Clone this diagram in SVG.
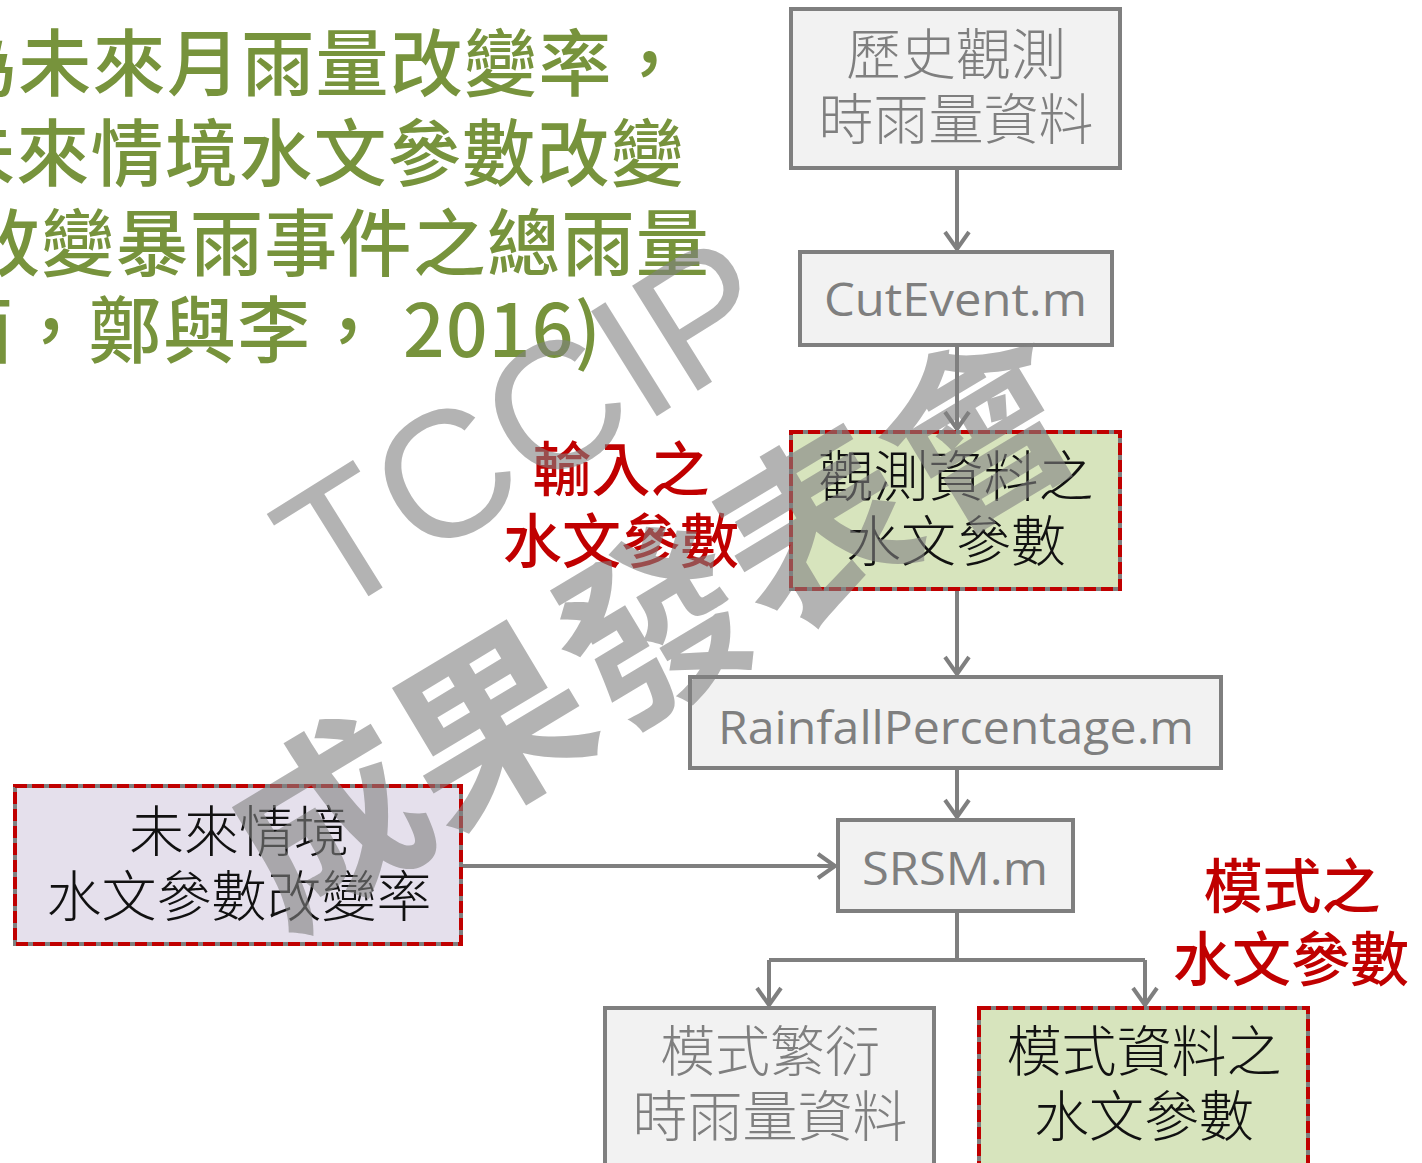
<svg xmlns="http://www.w3.org/2000/svg" width="1422" height="1163" viewBox="0 0 1422 1163">
<defs>
<style>
.box{stroke:#7f7f7f;stroke-width:4}
.gray{fill:#f2f2f2}
.green{fill:#d7e4bd}
.lav{fill:#e5e0ec}
.dash{fill:none;stroke:#c00000;stroke-width:4;stroke-dasharray:12 5}
.cjk{font-family:"Noto Sans CJK TC","Noto Sans CJK SC",sans-serif;font-weight:300;font-size:55px;text-anchor:middle}
.gt{fill:#7f7f7f}
.bt{fill:#111111}
.lat{font-family:"Open Sans","Noto Sans",sans-serif;font-weight:400;font-size:46px;fill:#7f7f7f}
.red{font-family:"Noto Sans CJK TC","Noto Sans CJK SC",sans-serif;font-weight:500;font-size:59px;fill:#c00000;text-anchor:middle}
.title{font-family:"Noto Sans CJK TC","Noto Sans CJK SC",sans-serif;font-weight:500;font-size:73px;letter-spacing:1.3px;fill:#77933c}
.wm{fill:#808080;fill-opacity:0.6}
.conn{fill:none;stroke:#7f7f7f;stroke-width:4}
</style>
<marker id="arr" markerUnits="userSpaceOnUse" markerWidth="40" markerHeight="40" viewBox="-20 -20 40 40" refX="0" refY="0" orient="auto">
<path d="M-17,-12 L0,0 L-17,12" fill="none" stroke="#7f7f7f" stroke-width="4" stroke-linejoin="miter"/>
</marker>
</defs>
<rect width="1422" height="1163" fill="#ffffff"/>

<g id="title">
<text class="title" x="-56" y="90">為未來月雨量改變率，</text>
<text class="title" x="-58" y="180">未來情境水文參數改變</text>
<text class="title" x="-33" y="270">改變暴雨事件之總雨量</text>
<text class="title" x="-60" y="357">面，鄭與李，<tspan x="403">2016)</tspan></text>
</g>

<g id="connectors">
<line class="conn" x1="957" y1="168" x2="957" y2="249" marker-end="url(#arr)"/>
<line class="conn" x1="957" y1="345" x2="957" y2="429" marker-end="url(#arr)"/>
<line class="conn" x1="957" y1="589" x2="957" y2="674" marker-end="url(#arr)"/>
<line class="conn" x1="957" y1="768" x2="957" y2="817" marker-end="url(#arr)"/>
<line class="conn" x1="461" y1="866" x2="835" y2="866" marker-end="url(#arr)"/>
<path class="conn" d="M957,911 L957,960"/>
<path class="conn" d="M769,960 L1145,960"/>
<line class="conn" x1="769" y1="960" x2="769" y2="1005" marker-end="url(#arr)"/>
<line class="conn" x1="1145" y1="960" x2="1145" y2="1005" marker-end="url(#arr)"/>
</g>

<g id="n-history">
<rect class="box gray" x="791" y="9" width="329" height="159"/>
<text class="cjk gt" x="956" y="74">歷史觀測</text>
<text class="cjk gt" x="956" y="139">時雨量資料</text>
</g>

<g id="n-cutevent">
<rect class="box gray" x="800" y="252" width="312" height="93"/>
<text class="lat" x="824" y="316" textLength="263" lengthAdjust="spacingAndGlyphs">CutEvent.m</text>
</g>

<g id="n-obsparam">
<rect class="box green" x="791" y="432" width="329" height="157"/>
<rect class="dash" x="791" y="432" width="329" height="157"/>
<text class="cjk bt" x="956" y="496">觀測資料之</text>
<text class="cjk bt" x="956" y="561">水文參數</text>
</g>

<g id="n-rainfall">
<rect class="box gray" x="690" y="677" width="531" height="91"/>
<text class="lat" x="718" y="744" textLength="476" lengthAdjust="spacingAndGlyphs">RainfallPercentage.m</text>
</g>

<g id="n-srsm">
<rect class="box gray" x="838" y="820" width="235" height="91"/>
<text class="lat" x="862" y="885" textLength="186" lengthAdjust="spacingAndGlyphs">SRSM.m</text>
</g>

<g id="n-future">
<rect class="box lav" x="15" y="786" width="446" height="158"/>
<rect class="dash" x="15" y="786" width="446" height="158"/>
<text class="cjk bt" x="239" y="851">未來情境</text>
<text class="cjk bt" x="239" y="916">水文參數改變率</text>
</g>

<g id="n-modelrain">
<rect class="box gray" x="605" y="1008" width="329" height="170"/>
<text class="cjk gt" x="770" y="1071">模式繁衍</text>
<text class="cjk gt" x="770" y="1136">時雨量資料</text>
</g>

<g id="n-modelparam">
<rect class="box green" x="979" y="1008" width="329" height="170"/>
<rect class="dash" x="979" y="1008" width="329" height="170"/>
<text class="cjk bt" x="1144" y="1071">模式資料之</text>
<text class="cjk bt" x="1144" y="1136">水文參數</text>
</g>

<g id="labels">
<text class="red" x="621" y="491">輸入之</text>
<text class="red" x="621" y="563">水文參數</text>
<text class="red" x="1292" y="908">模式之</text>
<text class="red" x="1291" y="981">水文參數</text>
</g>

<g id="watermark">
<text class="wm" transform="translate(558,478) rotate(-32)" x="0" y="0" text-anchor="middle" font-family="Liberation Sans, Arial, sans-serif" font-size="180">TCCIP</text>
<text class="wm" transform="translate(690,687) rotate(-31)" x="0" y="0" text-anchor="middle" font-family="Noto Sans CJK TC, Noto Sans CJK SC, sans-serif" font-weight="700" font-size="190">成果發表會</text>
</g>
</svg>
